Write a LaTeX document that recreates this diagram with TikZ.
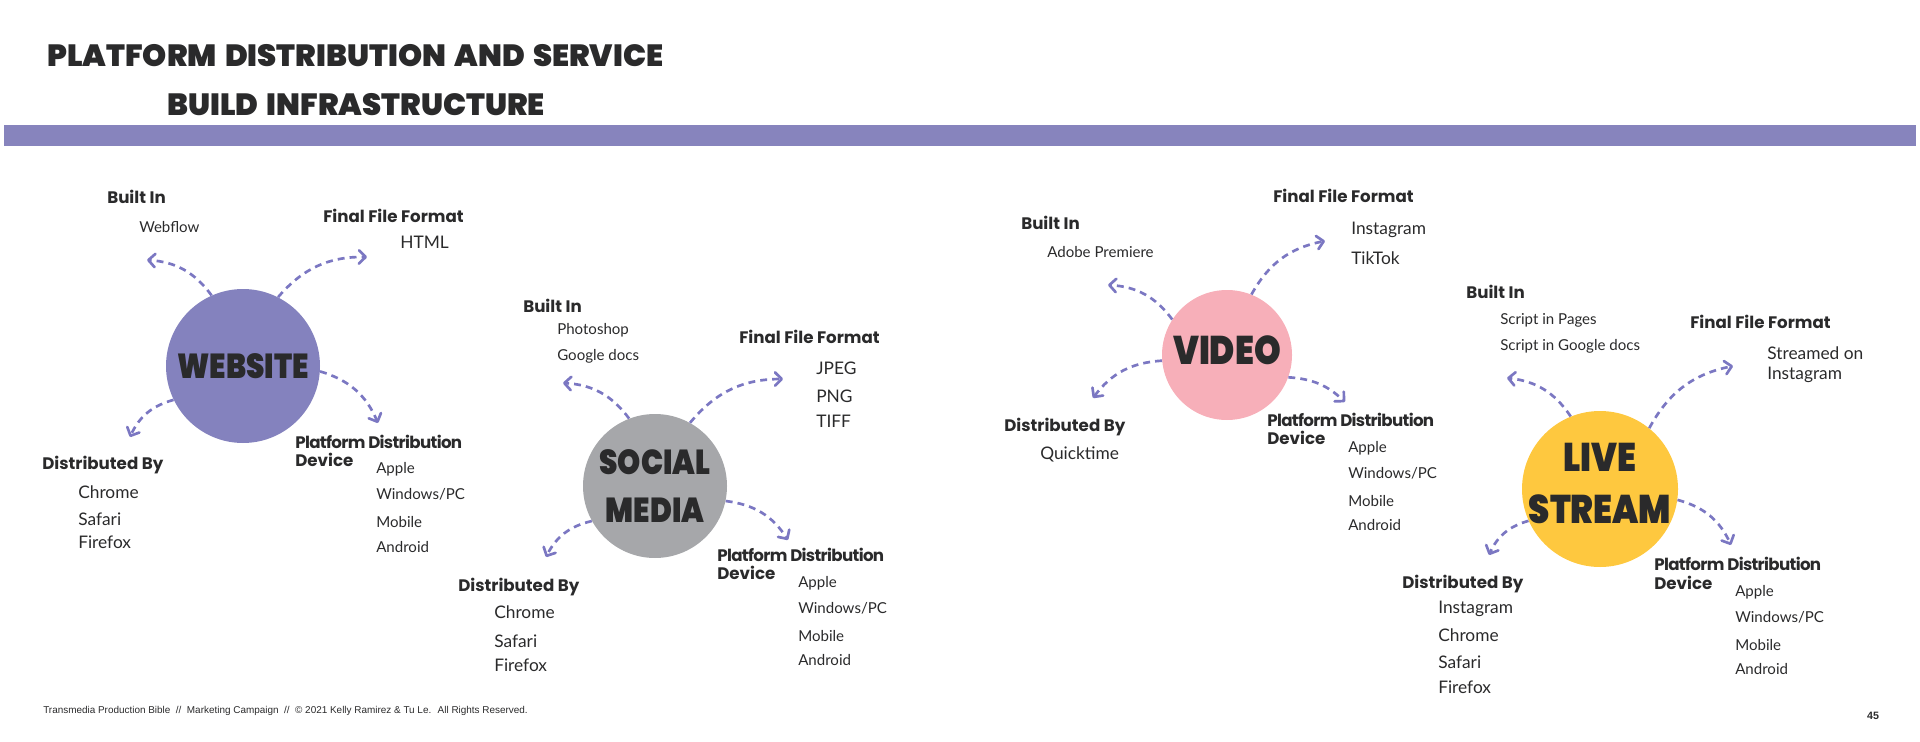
\documentclass[tikz,border=0pt]{standalone}
\usepackage{fontspec}
\usetikzlibrary{arrows.meta}
\setmainfont{Lato}
\newfontfamily\headfont{Poppins}
\newfontfamily\titlefont{Poppins Black}[WordSpace=1.6]
\newfontfamily\hubfont{Poppins Black}[FakeStretch=0.85]
\newfontfamily\footfont{Liberation Sans}
\definecolor{barpurple}{HTML}{8784BD}
\definecolor{linkpurple}{HTML}{7B77C2}
\definecolor{inkgray}{HTML}{2A2A2B}
\definecolor{webfill}{HTML}{8482BE}
\definecolor{socfill}{HTML}{A6A7AA}
\definecolor{vidfill}{HTML}{F7AFB9}
\definecolor{livfill}{HTML}{FEC83F}
\tikzset{
  hub/.style={circle,inner sep=0pt},
  hubtext/.style={inner sep=0pt,text=inkgray,align=center,
    font=\hubfont\fontsize{26}{36}\selectfont},
  head/.style={anchor=base west,inner sep=0pt,text=inkgray,
    font=\headfont\bfseries\fontsize{12.5}{14}\selectfont},
  devhead/.style={head,font=\headfont\bfseries\fontsize{12.5}{14}\selectfont\addfontfeature{LetterSpace=-4}},
  bigitem/.style={anchor=base west,inner sep=0pt,text=inkgray,
    font=\fontsize{13}{15}\selectfont},
  smallitem/.style={anchor=base west,inner sep=0pt,text=inkgray,
    font=\fontsize{11.3}{13}\selectfont},
  link/.style={draw=linkpurple,line width=2pt,dash pattern=on 5.2pt off 3.8pt,
    -{Straight Barb[length=5pt,width=10pt,round]}}
}
\begin{document}
\begin{tikzpicture}[x=0.75pt,y=-0.75pt]
\useasboundingbox (0,0) rectangle (1920,742);
% title and bar
\node[anchor=base west,inner sep=0pt,text=inkgray,font=\titlefont\fontsize{23}{28}\selectfont]
  (titleA) at (47,67) {PLATFORM DISTRIBUTION AND SERVICE};
\node[anchor=base west,inner sep=0pt,text=inkgray,font=\titlefont\fontsize{23}{28}\selectfont]
  (titleB) at (167,115) {BUILD INFRASTRUCTURE};
\fill[barpurple] (4,125) rectangle (1916,146);

% hubs
\node[hub,fill=webfill,minimum size=115.5pt] (web) at (243,366) {};
\node[hubtext] (webName) at (web) {WEBSITE};
\node[hub,fill=socfill,minimum size=108pt] (soc) at (655,486) {};
\node[hubtext] (socName) at (soc) {SOCIAL\\MEDIA};
\node[hub,fill=vidfill,minimum size=97.5pt] (vid) at (1227,355) {};
\node[hubtext,font=\hubfont\fontsize{30}{39}\selectfont] (vidName) at ([yshift=3.8pt]vid.center) {VIDEO};
\node[hub,fill=livfill,minimum size=117pt] (liv) at (1600,489) {};
\node[hubtext,font=\hubfont\fontsize{30}{39}\selectfont] (livName) at ([yshift=4pt]liv.center) {LIVE\\STREAM};

% website
\node[head] (webIn) at (107,203) {Built In};
\node[smallitem] (webInA) at (139,232) {Webflow};
\node[head] (webFmt) at (323,222) {Final File Format};
\node[bigitem] (webFmtA) at (400,248) {HTML};
\node[head] (webBy) at (42,469) {Distributed By};
\foreach \t/\y [count=\i] in {Chrome/498,Safari/525,Firefox/548}
  \node[bigitem] (webBy\i) at (78,\y) {\t};
\node[devhead] (webDev) at (295,448) {Platform Distribution};
\node[head] (webDevB) at (295,466) {Device};
\foreach \t/\y [count=\i] in {Apple/473,{Windows/PC}/499,Mobile/527,Android/552}
  \node[smallitem] (webDev\i) at (376,\y) {\t};
\coordinate (webInTip) at (147,260);
\coordinate (webFmtTip) at (367,257);
\coordinate (webDevTip) at (378,423);
\coordinate (webByTip) at (130,437);
\draw[link] (web.114) to[bend right=25] (webInTip);
\draw[link] (web.63) to[bend left=25] (webFmtTip);
\draw[link] (web.-4) to[bend left=25] (webDevTip);
\draw[link] (web.206) to[bend right=25] (webByTip);

% social media
\node[head] (socIn) at (523,312) {Built In};
\node[smallitem] (socInA) at (557,334) {Photoshop};
\node[smallitem] (socInB) at (557,360) {Google docs};
\node[head] (socFmt) at (739,343) {Final File Format};
\foreach \t/\y [count=\i] in {JPEG/374,PNG/402,TIFF/427}
  \node[bigitem] (socFmt\i) at (816,\y) {\t};
\node[head] (socBy) at (458,591) {Distributed By};
\foreach \t/\y [count=\i] in {Chrome/618,Safari/647,Firefox/671}
  \node[bigitem] (socBy\i) at (494,\y) {\t};
\node[devhead] (socDev) at (717,561) {Platform Distribution};
\node[head] (socDevB) at (717,579) {Device};
\foreach \t/\y [count=\i] in {Apple/587,{Windows/PC}/613,Mobile/641,Android/665}
  \node[smallitem] (socDev\i) at (798,\y) {\t};
\coordinate (socInTip) at (563,383);
\coordinate (socFmtTip) at (783,379);
\coordinate (socDevTip) at (788,540);
\coordinate (socByTip) at (546,557);
\draw[link] (soc.111) to[bend right=25] (socInTip);
\draw[link] (soc.61) to[bend left=25] (socFmtTip);
\draw[link] (soc.-12) to[bend left=25] (socDevTip);
\draw[link] (soc.209) to[bend right=25] (socByTip);

% video
\node[head] (vidIn) at (1021,229) {Built In};
\node[smallitem] (vidInA) at (1047,257) {Adobe Premiere};
\node[head] (vidFmt) at (1273,202) {Final File Format};
\node[bigitem] (vidFmtA) at (1351,234) {Instagram};
\node[bigitem] (vidFmtB) at (1351,264) {TikTok};
\node[head] (vidBy) at (1004,431) {Distributed By};
\node[bigitem] (vidByA) at (1040,459) {Quicktime};
\node[devhead] (vidDev) at (1267,426) {Platform Distribution};
\node[head] (vidDevB) at (1267,444) {Device};
\foreach \t/\y [count=\i] in {Apple/452,{Windows/PC}/478,Mobile/506,Android/530}
  \node[smallitem] (vidDev\i) at (1348,\y) {\t};
\coordinate (vidInTip) at (1108,285);
\coordinate (vidFmtTip) at (1325,241);
\coordinate (vidDevTip) at (1345,402);
\coordinate (vidByTip) at (1093,398);
\draw[link] (vid.147) to[bend right=25] (vidInTip);
\draw[link] (vid.68) to[bend left=25] (vidFmtTip);
\draw[link] (vid.-20) to[bend left=20] (vidDevTip);
\draw[link] (vid.185) to[bend right=25] (vidByTip);

% live stream
\node[head] (livIn) at (1466,298) {Built In};
\node[smallitem] (livInA) at (1500,324) {Script in Pages};
\node[smallitem] (livInB) at (1500,350) {Script in Google docs};
\node[head] (livFmt) at (1690,328) {Final File Format};
\node[bigitem] (livFmtA) at (1767,359) {Streamed on};
\node[bigitem] (livFmtB) at (1767,379) {Instagram};
\node[head] (livBy) at (1402,588) {Distributed By};
\foreach \t/\y [count=\i] in {Instagram/613,Chrome/641,Safari/668,Firefox/693}
  \node[bigitem] (livBy\i) at (1438,\y) {\t};
\node[devhead] (livDev) at (1654,570) {Platform Distribution};
\node[head] (livDevB) at (1654,589) {Device};
\foreach \t/\y [count=\i] in {Apple/596,{Windows/PC}/622,Mobile/650,Android/674}
  \node[smallitem] (livDev\i) at (1735,\y) {\t};
\coordinate (livInTip) at (1507,378);
\coordinate (livFmtTip) at (1733,366);
\coordinate (livDevTip) at (1731,545);
\coordinate (livByTip) at (1489,555);
\draw[link] (liv.112) to[bend right=25] (livInTip);
\draw[link] (liv.51) to[bend left=25] (livFmtTip);
\draw[link] (liv.-8) to[bend left=25] (livDevTip);
\draw[link] (liv.204) to[bend right=25] (livByTip);

% footer
\node[anchor=base west,inner sep=0pt,font=\footfont\fontsize{7.45}{9}\selectfont,text=inkgray]
  (foot) at (43,713) {Transmedia Production Bible \ // \ Marketing Campaign \ // \ \textcopyright\ 2021 Kelly Ramirez \& Tu Le. \ All Rights Reserved.};
\node[inner sep=0pt,font=\footfont\bfseries\fontsize{8}{9}\selectfont,text=inkgray]
  (page) at (1873,716) {45};
\end{tikzpicture}
\end{document}
